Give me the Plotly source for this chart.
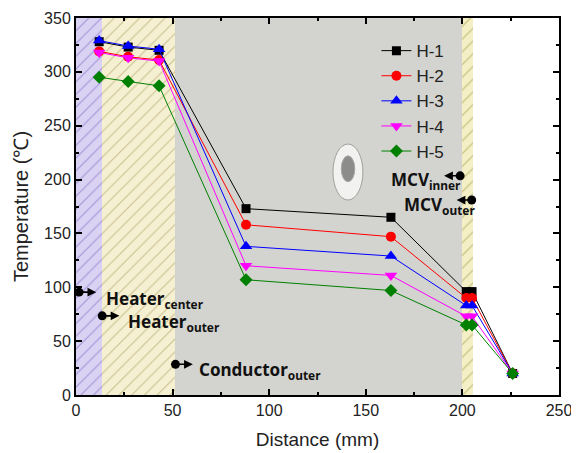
import plotly.graph_objects as go

# ---------------- data ----------------
distance = [12, 27, 43, 88, 163, 202, 205, 226]
h1 = [328, 323, 320, 173, 165, 96, 96, 20]
h2 = [319, 314, 311, 158, 147, 90, 90, 20]
h3 = [329, 324, 321, 138, 129, 83, 83, 20]
h4 = [318, 313, 310, 120, 111, 73, 73, 20]
h5 = [295, 291, 287, 107, 97, 65, 65, 20]
series_names = ["H-1", "H-2", "H-3", "H-4", "H-5"]

# region boundaries (mm)
heater_center_end = 13.5
heater_outer_end = 51
conductor_end = 200
mcv_end = 205.5

x_ticks = [0, 50, 100, 150, 200, 250]
y_ticks = [0, 50, 100, 150, 200, 250, 300, 350]

series = [h1, h2, h3, h4, h5]
colors = ["#000000", "#ff0000", "#0000ff", "#ff00ff", "#008000"]
symbols = ["square", "circle", "triangle-up", "triangle-down", "diamond"]
sizes = [9, 10, 11, 11, 10]

fig = go.Figure()

# hatched regions as patterned bars
regions = [
    (0, heater_center_end, "#dad2f2", "#a294d8"),
    (heater_center_end, heater_outer_end, "#f6f0d2", "#c9c191"),
    (conductor_end, mcv_end, "#f4efc4", "#c2ba7a"),
]
for x0, x1, bg, fg in regions:
    fig.add_trace(go.Bar(
        x=[(x0 + x1) / 2], y=[350], width=[x1 - x0],
        marker=dict(color=bg, line=dict(width=0),
                    pattern=dict(shape="/", fgcolor=fg, bgcolor=bg,
                                 size=9, solidity=0.12, fillmode="replace")),
        showlegend=False, hoverinfo="skip"))

# conductor (gray) region + ellipse icon
shapes = [
    dict(type="rect", xref="x", yref="y", x0=heater_outer_end, x1=conductor_end,
         y0=0, y1=350, fillcolor="#d3d3cf", line=dict(width=0), layer="below"),
    dict(type="line", xref="x", yref="y", x0=heater_outer_end, x1=heater_outer_end,
         y0=0, y1=350, line=dict(color="#b0b0a8", width=1), layer="below"),
    dict(type="circle", xref="x", yref="y", x0=133, x1=148.5, y0=181, y1=233,
         fillcolor="#f2f2f0", line=dict(color="#a0a09c", width=1), layer="below"),
    dict(type="circle", xref="x", yref="y", x0=137.3, x1=144.3, y0=198, y1=222,
         fillcolor="#8c8c8a", line=dict(color="#a8a8a6", width=1), layer="below"),
]

for name, vals, c, s, sz in zip(series_names, series, colors, symbols, sizes):
    fig.add_trace(go.Scatter(
        x=distance, y=vals, name=name, mode="lines+markers",
        line=dict(color=c, width=1),
        marker=dict(symbol=s, size=sz, color=c, line=dict(width=0))))

# annotations: dot-arrow + label
ann_font = dict(family="Noto Sans", size=17, color="#111111")
annotations = []

def dot_arrow(xd, yd, xh, yh):
    annotations.append(dict(
        x=xh, y=yh, ax=xd, ay=yd, xref="x", yref="y", axref="x", ayref="y",
        text="", showarrow=True, arrowhead=2, arrowsize=1.1, arrowwidth=1.6,
        arrowside="end+start", startarrowhead=6, startarrowsize=1.4,
        arrowcolor="#000000"))

def label(x, y, main, sub, anchor):
    annotations.append(dict(
        x=x, y=y, xref="x", yref="y", showarrow=False,
        text=f"<b>{main}<sub>{sub}</sub></b>", font=ann_font,
        xanchor=anchor, yanchor="middle"))

dot_arrow(0.8, 95.5, 10.5, 95.5)
label(14.5, 89, "Heater", "center", "left")
dot_arrow(12.8, 73.5, 22.5, 73.5)
label(25.8, 67, "Heater", "outer", "left")
dot_arrow(50.7, 28.5, 60.5, 28.5)
label(62.8, 23, "Conductor", "outer", "left")
dot_arrow(199.6, 203.5, 190.5, 203.5)
label(200.5, 199, "MCV", "inner", "right")
dot_arrow(205.6, 181, 197, 181)
label(207.5, 176, "MCV", "outer", "right")

axis_common = dict(
    showline=True, linecolor="#000000", linewidth=2, mirror="allticks",
    ticks="inside", ticklen=6, tickwidth=1.5, tickcolor="#000000",
    showgrid=False, zeroline=False, automargin=False,
    tickfont=dict(family="Liberation Sans", size=16, color="#222222"),
    minor=dict(ticks="inside", ticklen=3, tickwidth=1.5, tickcolor="#000000",
               dtick=25, showgrid=False),
)

# the page body adds an 8px offset, so the figure is 8px smaller on each side
fig.update_layout(
    width=571, height=445,
    margin=dict(l=68, r=20, t=10, b=58),
    paper_bgcolor="#ffffff", plot_bgcolor="#ffffff",
    barmode="overlay", bargap=0,
    shapes=shapes, annotations=annotations,
    showlegend=True,
    legend=dict(x=0.622, y=0.96, xanchor="left", yanchor="top",
                bgcolor="rgba(0,0,0,0)", borderwidth=0,
                font=dict(family="Liberation Sans", size=17, color="#222222"),
                tracegroupgap=0),
    xaxis=dict(range=[0, 250], tickvals=x_ticks,
               title=dict(text="Distance (mm)", standoff=14,
                          font=dict(family="Liberation Sans", size=19, color="#222222")),
               **axis_common),
    yaxis=dict(range=[0, 350], tickvals=y_ticks,
               title=dict(text="Temperature (℃)", standoff=10,
                          font=dict(family="Liberation Sans", size=20, color="#222222")),
               **axis_common),
)

fig.write_html("out.html")
